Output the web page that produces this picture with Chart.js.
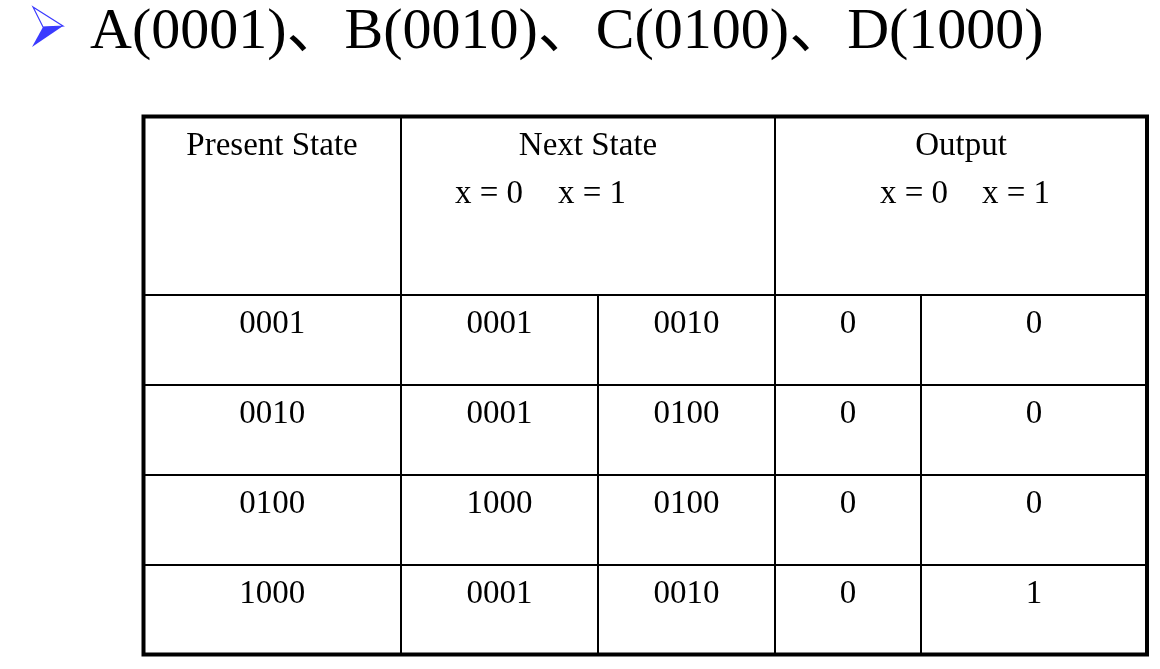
<!DOCTYPE html>
<html>
<head>
<meta charset="utf-8">
<script src="https://cdn.jsdelivr.net/npm/chart.js@4/dist/chart.umd.min.js"></script>
<style>
  html, body { margin: 0; padding: 0; background: #fff; }
  #wrap { position: relative; width: 1160px; height: 669px; }
  #title {
    position: absolute; left: 90px; top: 0; margin: 0;
    font: 58px/58px "Liberation Serif", "Noto Sans CJK SC", serif;
    color: #000; white-space: nowrap; font-weight: normal;
  }
</style>
</head>
<body>
<div id="wrap">
  <canvas id="table"></canvas>
  <h1 id="title">A(0001)、B(0010)、C(0100)、D(1000)</h1>
</div>
<script>
// state table data
const headers = ['Present State', 'Next State', 'Output'];
const subHeaders = ['x = 0', 'x = 1'];
const presentStates = ['0001', '0010', '0100', '1000'];
const nextX0 = ['0001', '0001', '1000', '0001'];
const nextX1 = ['0010', '0100', '0100', '0010'];
const outX0 = ['0', '0', '0', '0'];
const outX1 = ['0', '0', '0', '1'];

// grid layout (page units)
const colEdges = [143.5, 401, 598, 775, 921, 1147];
const rowEdges = [116.5, 295, 385, 475, 565, 654.5];

const FONT = '33px "Liberation Serif", serif';

const tablePlugin = {
  id: 'stateTable',
  afterDraw(chart) {
    const ctx = chart.ctx;
    const sx = chart.scales.x, sy = chart.scales.y;
    const X = v => sx.getPixelForValue(v);
    const Y = v => sy.getPixelForValue(v);
    const top = rowEdges[0], bottom = rowEdges[rowEdges.length - 1];
    const left = colEdges[0], right = colEdges[colEdges.length - 1];

    ctx.save();

    // bullet arrow
    ctx.fillStyle = '#3a3aff';
    ctx.strokeStyle = '#3a3aff';
    ctx.lineWidth = 1.2;
    ctx.beginPath();
    ctx.moveTo(X(33), Y(7)); ctx.lineTo(X(63), Y(26)); ctx.lineTo(X(43), Y(27)); ctx.closePath();
    ctx.stroke();
    ctx.beginPath();
    ctx.moveTo(X(43), Y(27)); ctx.lineTo(X(63), Y(26)); ctx.lineTo(X(32), Y(47)); ctx.closePath();
    ctx.fill();

    // inner lines
    ctx.strokeStyle = '#000';
    ctx.lineWidth = 2;
    ctx.beginPath();
    rowEdges.slice(1, -1).forEach(r => { ctx.moveTo(X(left), Y(r)); ctx.lineTo(X(right), Y(r)); });
    [colEdges[1], colEdges[3]].forEach(c => { ctx.moveTo(X(c), Y(top)); ctx.lineTo(X(c), Y(bottom)); });
    [colEdges[2], colEdges[4]].forEach(c => { ctx.moveTo(X(c), Y(rowEdges[1])); ctx.lineTo(X(c), Y(bottom)); });
    ctx.stroke();

    // outer border
    ctx.lineWidth = 4;
    ctx.strokeRect(X(left), Y(top), X(right) - X(left), Y(bottom) - Y(top));

    // header text
    ctx.fillStyle = '#000';
    ctx.font = FONT;
    ctx.textBaseline = 'alphabetic';
    ctx.textAlign = 'center';
    ctx.fillText(headers[0], X(272), Y(155));
    ctx.fillText(headers[1], X(588), Y(155));
    ctx.fillText(headers[2], X(961), Y(155));
    ctx.textAlign = 'left';
    ctx.fillText(subHeaders[0], X(455), Y(203));
    ctx.fillText(subHeaders[1], X(558), Y(203));
    ctx.fillText(subHeaders[0], X(880), Y(203));
    ctx.fillText(subHeaders[1], X(982), Y(203));

    // body rows
    ctx.textAlign = 'center';
    const cols = [
      [presentStates, (colEdges[0] + colEdges[1]) / 2],
      [nextX0, (colEdges[1] + colEdges[2]) / 2],
      [nextX1, (colEdges[2] + colEdges[3]) / 2],
      [outX0, (colEdges[3] + colEdges[4]) / 2],
      [outX1, (colEdges[4] + colEdges[5]) / 2]
    ];
    presentStates.forEach((_, i) => {
      const base = rowEdges[i + 1] + 38;
      cols.forEach(([arr, cx]) => ctx.fillText(arr[i], X(cx), Y(base)));
    });

    ctx.restore();
  }
};

new Chart(document.getElementById('table').getContext('2d'), {
  type: 'scatter',
  data: { datasets: [{ data: [], pointRadius: 0 }] },
  options: {
    responsive: true,
    maintainAspectRatio: false,
    animation: false,
    layout: { padding: 0 },
    events: [],
    plugins: { legend: { display: false }, tooltip: { enabled: false }, title: { display: false } },
    scales: {
      x: { type: 'linear', min: 0, max: 1160, display: false },
      y: { type: 'linear', min: 0, max: 669, reverse: true, display: false }
    }
  },
  plugins: [tablePlugin]
});
</script>
</body>
</html>
